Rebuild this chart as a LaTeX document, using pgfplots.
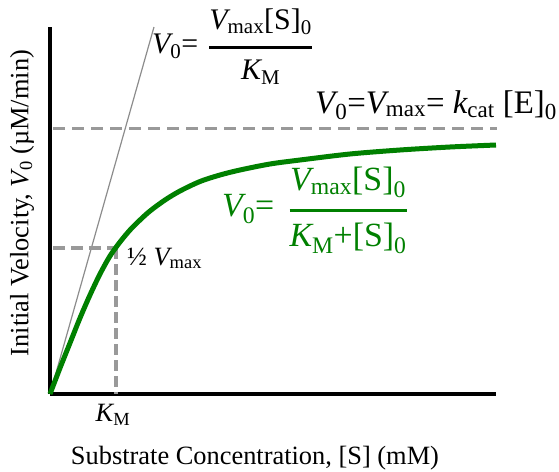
\documentclass[border=0pt]{standalone}
\usepackage{amsmath}
\usepackage{fontspec}
\setmainfont{Liberation Serif}
\usepackage{pgfplots}
\pgfplotsset{compat=1.18}

\definecolor{mmgreen}{RGB}{0,128,0}
\definecolor{guide}{RGB}{153,153,153}
\definecolor{tangent}{RGB}{140,140,140}

\newcommand{\lblfont}{\fontsize{26.5}{30}\selectfont}
\newcommand{\iv}[1]{\text{\itshape #1}}
\newcommand{\sub}[1]{_{\text{#1}}}

% Michaelis-Menten saturation curve
\pgfplotstableread{
s v
0 0
10 26
20 51
30 76
40 99
50 120
60 138
70 152
80 164
90 174
100 183
115 194
130 203
150 212.5
170 219
190 224
220 230
250 234
300 240
350 244
400 247
446 249
}\mmcurve

\begin{document}
\begin{tikzpicture}
\useasboundingbox (-50bp,-78bp) rectangle (509bp,394bp);
\begin{axis}[
  at={(0,0)}, anchor=origin,
  x=1bp, y=1bp,
  xmin=0, xmax=446, ymin=0, ymax=367,
  enlargelimits=false,
  axis x line=bottom, axis y line=left,
  axis line style={-, line width=3.5bp, black},
  ticks=none,
  clip=false,
]
% initial-rate tangent
\addplot[tangent, line width=1.2bp] coordinates {(0,0) (104,367)};
% Vmax asymptote
\addplot[guide, line width=3bp, dash pattern=on 12bp off 7bp] coordinates {(3,266) (447,266)};
% half Vmax and KM guides
\addplot[guide, line width=3.5bp, dash pattern=on 12bp off 6bp] coordinates {(3,146) (66,146)};
\addplot[guide, line width=4.5bp, dash pattern=on 11bp off 5bp] coordinates {(66,146) (66,0)};
% saturation curve
\addplot[mmgreen, line width=5bp, smooth] table[x=s, y=v] {\mmcurve};

% annotations
\node[anchor=base west, font=\fontsize{30}{36}\selectfont, inner sep=0pt] at (axis cs:102,340.5)
  {$\iv{V}\sub{0}\text{=}\hspace{10bp}\genfrac{}{}{3.5bp}{0}{\iv{V}\sub{max}\text{[S]}\sub{0}}{\iv{K}\sub{M}}$};
\node[anchor=base west, font=\fontsize{33}{40}\selectfont, inner sep=0pt] at (axis cs:265,281)
  {$\iv{V}\sub{0}\text{=}\iv{V}\sub{max}\text{= }\iv{k}\sub{cat}\text{ [E]}\sub{0}$};
\node[anchor=base west, font=\fontsize{34}{40}\selectfont, text=mmgreen, inner sep=0pt] at (axis cs:172,177.5)
  {$\iv{V}\sub{0}\text{=}\hspace{14bp}\genfrac{}{}{3.5bp}{0}{\iv{V}\sub{max}\text{[S]}\sub{0}}{\iv{K}\sub{M}\text{+[S]}\sub{0}}$};
\node[anchor=base west, font=\lblfont, inner sep=0pt] at (axis cs:77,129)
  {½ $\iv{V}\sub{max}$};
\node[anchor=center, font=\lblfont, inner sep=0pt] at (axis cs:63,-21)
  {$\iv{K}\sub{M}$};
\node[anchor=center, font=\lblfont, inner sep=0pt] at (axis cs:205,-64)
  {Substrate Concentration, [S] (mM)};
\node[anchor=center, rotate=90, font=\lblfont, inner sep=0pt] at (axis cs:-28,191)
  {Initial Velocity, $\iv{V}\sub{0}$ (µM/min)};
\end{axis}
\end{tikzpicture}
\end{document}
